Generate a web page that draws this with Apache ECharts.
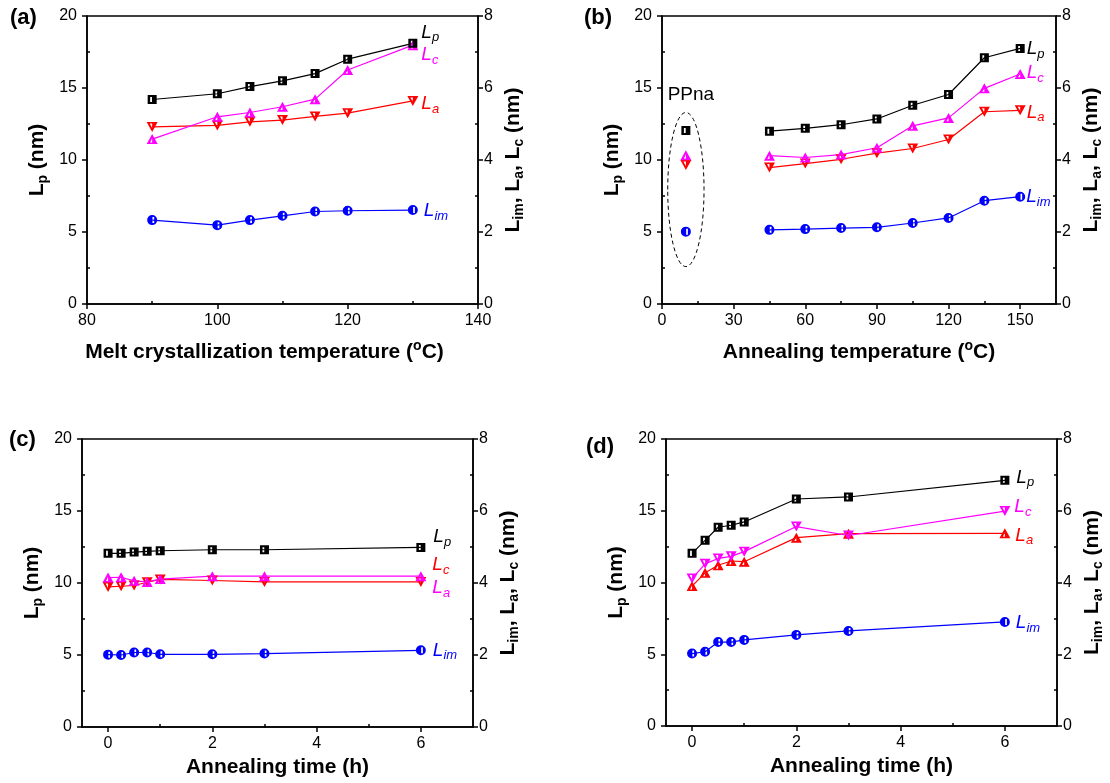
<!DOCTYPE html>
<html><head><meta charset="utf-8">
<script src="https://cdn.jsdelivr.net/npm/echarts@6/dist/echarts.min.js"></script>
<style>html,body{margin:0;padding:0;background:#fff}#c{width:1110px;height:783px}</style>
</head><body><div id="c"></div>
<script>
// ---------- data ----------
// (a) melt crystallization temperature
const aX   = [90, 100, 105, 110, 115, 120, 130];
const aLp  = [14.2, 14.6, 15.1, 15.5, 16.0, 17.0, 18.1];
const aLc  = [4.58, 5.20, 5.32, 5.48, 5.69, 6.50, 7.19];
const aLa  = [4.92, 4.96, 5.06, 5.11, 5.21, 5.30, 5.64];
const aLim = [2.33, 2.19, 2.33, 2.45, 2.57, 2.59, 2.61];
// (b) annealing temperature
const bX   = [45, 60, 75, 90, 105, 120, 135, 150];
const bLp  = [12.0, 12.2, 12.45, 12.85, 13.8, 14.55, 17.1, 17.75];
const bLc  = [4.12, 4.07, 4.15, 4.34, 4.95, 5.17, 5.99, 6.39];
const bLa  = [3.79, 3.90, 4.02, 4.19, 4.32, 4.57, 5.34, 5.38];
const bLim = [2.06, 2.08, 2.11, 2.13, 2.25, 2.39, 2.87, 2.98];
const ppnaX = [10];
const ppnaLp = [12.05];
const ppnaLc = [4.13];
const ppnaLa = [3.86];
const ppnaLim = [2.01];
const ppnaEllipse = [10, 7.95, 7.6, 5.35]; // centre x, centre y (Lp scale), half-width, half-height
// (c) annealing time
const cX   = [0, 0.25, 0.5, 0.75, 1, 2, 3, 6];
const cLp  = [12.06, 12.06, 12.15, 12.2, 12.24, 12.31, 12.31, 12.47];
const cMag = [4.15, 4.16, 4.06, 4.03, 4.11, 4.19, 4.19, 4.19];
const cRed = [3.89, 3.91, 3.93, 4.02, 4.10, 4.07, 4.03, 4.03];
const cLim = [2.01, 2.00, 2.07, 2.07, 2.02, 2.02, 2.04, 2.13];
// (d) annealing time
const dX   = [0, 0.25, 0.5, 0.75, 1, 2, 3, 6];
const dLp  = [12.03, 12.94, 13.85, 13.99, 14.22, 15.82, 15.96, 17.12];
const dLc  = [4.11, 4.52, 4.67, 4.73, 4.86, 5.56, 5.31, 5.99];
const dLa  = [3.90, 4.27, 4.48, 4.60, 4.58, 5.25, 5.36, 5.37];
const dLim = [2.02, 2.07, 2.34, 2.34, 2.40, 2.54, 2.65, 2.90];
// ticks
const ticksLeft = [0, 5, 10, 15, 20];
const minorLeft = [2.5, 7.5, 12.5, 17.5];
const ticksRight = [0, 2, 4, 6, 8];
const minorRight = [1, 3, 5, 7];
const ticksA = [80, 100, 120, 140];
const minorA = [90, 110, 130];
const ticksB = [0, 30, 60, 90, 120, 150];
const minorB = [15, 45, 75, 105, 135];
const ticksT = [0, 2, 4, 6];
const minorT = [1, 3, 5];

// ---------- styling ----------
const F = '"Liberation Sans", Arial, Helvetica, sans-serif';
const BLACK = '#000000', MAG = '#ff00ff', RED = '#ff0000', BLUE = '#0000ff';
const SYM = {
  square: 'path://M0 0H10V10H0Z M2.8 2.2V7.8H4.8V2.2Z',
  circle: 'path://M0 5A5 5 0 0 1 10 5A5 5 0 0 1 0 5Z M5.3 2V8H7V2Z',
  up: 'path://M5 0L10 10L0 10Z M5 3.8L3.2 8.4L5 8.4Z',
  down: 'path://M0 0L10 0L5 10Z M5 1.5L2.8 1.5L5 6.2Z'
};
const SIZE = { square: 9, circle: 10, up: [11, 10], down: [11, 10] };
const grids = [
  { left: 87, top: 16, width: 391, height: 288 },
  { left: 662, top: 16, width: 394, height: 288 },
  { left: 82, top: 439, width: 391, height: 288 },
  { left: 666, top: 439, width: 391, height: 287 }
].map(g => Object.assign({ show: true, borderColor: '#000', borderWidth: 1.5, containLabel: false, outerBoundsMode: 'none' }, g));

const richName = {
  b: { fontSize: 21, fontWeight: 'bold', fontFamily: F, color: '#000', lineHeight: 26 },
  s: { fontSize: 14, fontWeight: 'bold', fontFamily: F, color: '#000', verticalAlign: 'bottom' },
  p: { fontSize: 14, fontWeight: 'bold', fontFamily: F, color: '#000', verticalAlign: 'top' }
};
const lineAx = { show: true, onZero: false, lineStyle: { color: '#000', width: 1.5 } };
const tickStyle = { color: '#000', width: 1.5 };
const labStyle = { fontSize: 16, color: '#000', fontFamily: F };

function xMain(g, min, max, ticks, name, gap, pad) {
  return { type: 'value', gridIndex: g, position: 'bottom', min, max, name, nameLocation: 'middle', nameGap: gap,
    nameTextStyle: { rich: richName, padding: pad }, axisLine: lineAx,
    axisTick: { show: true, customValues: ticks, length: 5, lineStyle: tickStyle },
    axisLabel: Object.assign({ customValues: ticks, margin: 9 }, labStyle), splitLine: { show: false } };
}
function xMinor(g, min, max, ticks) {
  return { type: 'value', gridIndex: g, position: 'bottom', min, max, axisLine: { show: false, onZero: false },
    axisTick: { show: true, inside: true, customValues: ticks, length: 3, lineStyle: tickStyle },
    axisLabel: { show: false }, splitLine: { show: false } };
}
function yMain(g, pos, max, ticks, name, gap, margin) {
  return { type: 'value', gridIndex: g, position: pos, min: 0, max, name, nameLocation: 'middle', nameGap: gap, nameRotate: 90,
    nameTextStyle: { rich: richName }, axisLine: lineAx,
    axisTick: { show: true, customValues: ticks, length: 5, lineStyle: tickStyle },
    axisLabel: Object.assign({ customValues: ticks, margin }, labStyle), splitLine: { show: false } };
}
function yMinor(g, pos, max, ticks) {
  return { type: 'value', gridIndex: g, position: pos, min: 0, max, axisLine: { show: false, onZero: false },
    axisTick: { show: true, inside: true, customValues: ticks, length: 3, lineStyle: tickStyle },
    axisLabel: { show: false }, splitLine: { show: false } };
}
const nameLp = '{b|L}{s|p}{b| (nm)}';
const nameR = '{b|L}{s|im}{b|, L}{s|a}{b|, L}{s|c}{b| (nm)}';
const xNames = [
  '{b|Melt crystallization temperature (}{p|o}{b|C)}',
  '{b|Annealing temperature (}{p|o}{b|C)}',
  '{b|Annealing time (h)}',
  '{b|Annealing time (h)}'
];
const xCfg = [
  [80, 140, ticksA, minorA, 35, [0, 36, 0, 0]],
  [0, 165, ticksB, minorB, 35, 0],
  [-0.5, 7, ticksT, minorT, 27, 0],
  [-0.5, 7, ticksT, minorT, 27, 0]
];
const xAxis = [], yAxis = [];
xCfg.forEach((c, g) => {
  xAxis.push(xMain(g, c[0], c[1], c[2], xNames[g], c[4], c[5]));
  xAxis.push(xMinor(g, c[0], c[1], c[3]));
  yAxis.push(yMain(g, 'left', 20, ticksLeft, nameLp, 37, 10));
  yAxis.push(yMain(g, 'right', 8, ticksRight, nameR, 22, 6));
  yAxis.push(yMinor(g, 'left', 20, minorLeft));
  yAxis.push(yMinor(g, 'right', 8, minorRight));
});

function mkLab(l, color) {
  return { show: true, position: 'right', distance: l.d, offset: [0, l.dy], formatter: '{L|L}{s|' + l.sub + '}', color,
    rich: { L: { fontSize: 19, fontStyle: 'italic', fontFamily: F, lineHeight: 24, color },
            s: { fontSize: 13, fontStyle: 'italic', fontFamily: F, verticalAlign: 'bottom', color } } };
}
function lineSeries(g, axis, xs, ys, color, sym, lab) {
  return {
    type: 'line', xAxisIndex: 2 * g, yAxisIndex: 4 * g + (axis === 'L' ? 0 : 1),
    data: xs.map((x, i) => { const d = { value: [x, ys[i]] }; if (lab && i === xs.length - 1) d.label = mkLab(lab, color); return d; }),
    symbol: SYM[sym], symbolSize: SIZE[sym], itemStyle: { color, borderWidth: 0 }, lineStyle: { color, width: 1.2 },
    label: { show: false }, emphasis: { disabled: true }, animation: false, z: 3
  };
}
function pointSeries(g, axis, xs, ys, color, sym, label) {
  return {
    type: 'scatter', xAxisIndex: 2 * g, yAxisIndex: 4 * g + (axis === 'L' ? 0 : 1),
    data: xs.map((x, i) => { const d = { value: [x, ys[i]] }; if (label) d.label = label; return d; }),
    symbol: SYM[sym], symbolSize: SIZE[sym], itemStyle: { color, borderWidth: 0, opacity: 1 },
    emphasis: { disabled: true }, animation: false, z: 3
  };
}

const series = [
  // (a)
  lineSeries(0, 'R', aX, aLim, BLUE, 'circle', { sub: 'im', d: 6, dy: 1 }),
  lineSeries(0, 'R', aX, aLa, RED, 'down', { sub: 'a', d: 3, dy: 3 }),
  lineSeries(0, 'R', aX, aLc, MAG, 'up', { sub: 'c', d: 3, dy: 10 }),
  lineSeries(0, 'L', aX, aLp, BLACK, 'square', { sub: 'p', d: 4, dy: -11 }),
  // (b)
  lineSeries(1, 'R', bX, bLim, BLUE, 'circle', { sub: 'im', d: 1, dy: 0 }),
  lineSeries(1, 'R', bX, bLa, RED, 'down', { sub: 'a', d: 1, dy: 2 }),
  lineSeries(1, 'R', bX, bLc, MAG, 'up', { sub: 'c', d: 1, dy: -1 }),
  lineSeries(1, 'L', bX, bLp, BLACK, 'square', { sub: 'p', d: 2, dy: 0 }),
  pointSeries(1, 'R', ppnaX, ppnaLim, BLUE, 'circle'),
  pointSeries(1, 'R', ppnaX, ppnaLa, RED, 'down'),
  pointSeries(1, 'R', ppnaX, ppnaLc, MAG, 'up'),
  pointSeries(1, 'L', ppnaX, ppnaLp, BLACK, 'square',
    { show: true, formatter: 'PPna', position: 'top', distance: 22, offset: [5, 0], fontSize: 19, fontFamily: F, color: '#000' }),
  {
    type: 'custom', xAxisIndex: 2, yAxisIndex: 4, data: [ppnaEllipse], silent: true, animation: false, z: 1,
    renderItem: (params, api) => {
      const c = api.coord([api.value(0), api.value(1)]);
      const s = api.size([api.value(2), api.value(3)]);
      return { type: 'ellipse', shape: { cx: c[0], cy: c[1], rx: s[0], ry: s[1] },
        style: { fill: null, stroke: '#000', lineWidth: 1, lineDash: [4, 3] } };
    }
  },
  // (c)
  lineSeries(2, 'R', cX, cLim, BLUE, 'circle', { sub: 'im', d: 7, dy: 0 }),
  lineSeries(2, 'R', cX, cRed, RED, 'down', { sub: 'c', d: 6, dy: -17 }),
  lineSeries(2, 'R', cX, cMag, MAG, 'up', { sub: 'a', d: 6, dy: 12 }),
  lineSeries(2, 'L', cX, cLp, BLACK, 'square', { sub: 'p', d: 8, dy: -11 }),
  // (d)
  lineSeries(3, 'R', dX, dLim, BLUE, 'circle', { sub: 'im', d: 6, dy: 1 }),
  lineSeries(3, 'R', dX, dLa, RED, 'up', { sub: 'a', d: 5, dy: 2 }),
  lineSeries(3, 'R', dX, dLc, MAG, 'down', { sub: 'c', d: 4, dy: -4 }),
  lineSeries(3, 'L', dX, dLp, BLACK, 'square', { sub: 'p', d: 7, dy: -3 })
];

const panelTitle = (text, left, top) => ({ text, left, top, padding: 0,
  textStyle: { fontSize: 22, fontWeight: 'bold', fontFamily: F, color: '#000' } });

const chart = echarts.init(document.getElementById('c'), null, { renderer: 'canvas' });
chart.setOption({
  backgroundColor: '#fff',
  animation: false,
  title: [panelTitle('(a)', 10, 7), panelTitle('(b)', 584, 7), panelTitle('(c)', 9, 429), panelTitle('(d)', 586, 436)],
  grid: grids,
  xAxis, yAxis, series
});
</script></body></html>
